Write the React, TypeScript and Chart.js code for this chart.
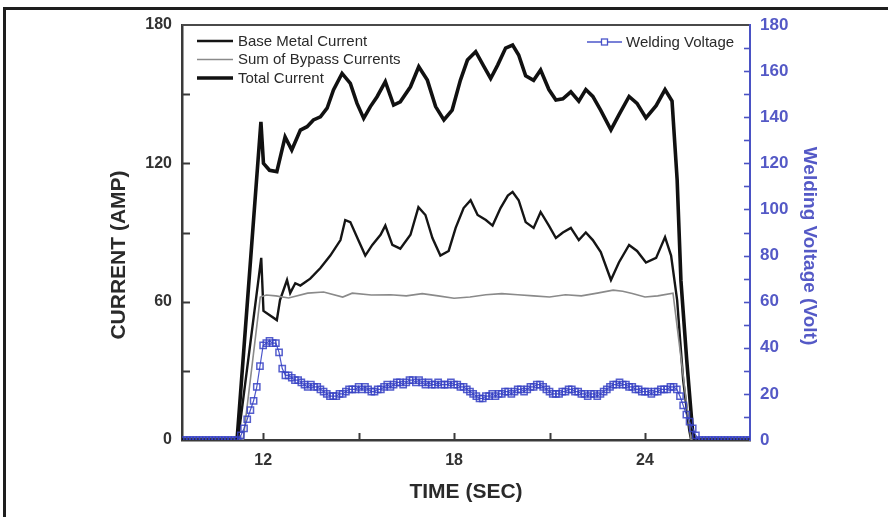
import React, { useEffect, useRef } from "react";
import { Chart, registerables } from "chart.js";
Chart.register(...registerables);

// ---------------- data ----------------
const X_MIN = 9.45;
const X_MAX = 27.3;
const xTickValues = [12, 18, 24];
const xMinorTicks = [15, 21];
const currentTicks = [0, 60, 120, 180];
const currentMinorTicks = [30, 90, 150];
const voltageTicks = [0, 20, 40, 60, 80, 100, 120, 140, 160, 180];
const voltageMinorTicks = [10, 30, 50, 70, 90, 110, 130, 150, 170];

const baseTime = [9.45, 11.21, 11.94, 12.01, 12.43, 12.53, 12.75, 12.85, 13.01, 13.17, 13.48, 13.8, 14.11, 14.43, 14.58, 14.74, 14.99, 15.21, 15.43, 15.69, 15.84, 16.06, 16.31, 16.63, 16.88, 17.1, 17.32, 17.57, 17.83, 18.05, 18.3, 18.52, 18.74, 19.0, 19.21, 19.46, 19.69, 19.84, 20.03, 20.25, 20.5, 20.72, 20.98, 21.2, 21.42, 21.67, 21.92, 22.14, 22.36, 22.61, 22.93, 23.18, 23.5, 23.75, 24.03, 24.35, 24.63, 24.82, 25.01, 25.2, 25.39, 25.45, 27.3];
const baseMetalCurrent = [0, 0, 79, 56, 52, 60.7, 69.4, 63.7, 68, 67, 70, 74.6, 80, 86.7, 95.4, 94.5, 86.7, 80, 84.6, 89, 93, 84.6, 83, 89, 101, 97.6, 87.6, 80, 82, 92, 100.6, 104, 97.6, 95.4, 93, 100.6, 106, 107.6, 104, 94.5, 92, 98.9, 93, 87.6, 90, 92, 86.7, 90, 86.7, 81.5, 69.4, 77, 84.6, 82, 77, 79, 88, 80, 60.7, 26, 4.3, 0, 0];

const bypassTime = [9.45, 11.37, 11.91, 12.1, 12.4, 12.8, 13.4, 13.9, 14.5, 14.8, 15.4, 16.0, 16.5, 17.0, 17.5, 18.0, 18.5, 19.0, 19.5, 20.0, 20.5, 21.0, 21.5, 22.0, 22.5, 23.0, 23.3, 23.6, 24.0, 24.4, 24.88, 25.45, 27.3];
const bypassCurrent = [0, 0, 62, 62.9, 62.5, 61.6, 63.7, 64.2, 62, 63.7, 62.9, 63, 62.5, 63.5, 62.5, 61.5, 62, 63, 63.5, 63, 62.5, 62, 63, 62.5, 63.7, 65, 64.5, 63.5, 62, 62.5, 63.7, 0, 0];

const totalTime = [9.45, 11.18, 11.93, 12.01, 12.2, 12.43, 12.69, 12.9, 13.17, 13.38, 13.58, 13.8, 14.01, 14.21, 14.48, 14.74, 14.95, 15.16, 15.37, 15.58, 15.84, 16.1, 16.31, 16.63, 16.89, 17.16, 17.42, 17.68, 17.94, 18.2, 18.42, 18.68, 18.94, 19.15, 19.37, 19.62, 19.84, 20.03, 20.25, 20.5, 20.72, 20.98, 21.2, 21.42, 21.67, 21.92, 22.14, 22.36, 22.61, 22.93, 23.18, 23.5, 23.75, 24.03, 24.35, 24.63, 24.85, 25.01, 25.13, 25.31, 25.5, 25.57, 27.3];
const totalCurrent = [0, 0, 138, 120, 117, 116.4, 131.5, 125.8, 134.4, 135.9, 138.8, 140.2, 143.9, 151.8, 159, 154.7, 146, 139.5, 144.6, 148.9, 155.4, 145.3, 146.7, 153.2, 161.9, 156.1, 144.6, 138.8, 143.1, 156.1, 164.8, 168.4, 161.9, 156.8, 162.6, 170, 171.3, 167, 158, 156, 160.5, 152, 147.5, 148, 151, 147, 152, 149, 143, 134.5, 141, 149, 146, 139.7, 145, 152, 147, 113, 69, 35, 3, 0, 0];

// welding voltage sampled every 0.1 s starting at 9.5 s
const voltageStart = 9.5;
const voltageStep = 0.1;
const weldingVoltage = [
  0, 0, 0, 0, 0, 0, 0, 0, 0, 0, 0, 0, 0, 0, 0, 0, 0, 0,
  2, 5, 9, 13, 17, 23, 32, 41,
  42, 43, 42, 42, 38, 31, 28, 28, 27, 26,
  26, 25, 24, 23, 24, 23, 23, 22, 21, 20,
  19, 19, 19, 20, 20, 21, 22, 22, 22, 23,
  22, 23, 22, 21, 21, 22, 22, 23, 24, 23,
  24, 25, 25, 24, 25, 26, 26, 25, 26, 25,
  24, 25, 24, 24, 25, 24, 24, 24, 25, 24,
  24, 23, 23, 22, 21, 20, 19, 18, 18, 19,
  19, 20, 19, 20, 20, 21, 21, 20, 21, 22,
  22, 21, 22, 23, 23, 24, 24, 23, 22, 21,
  20, 20, 20, 21, 21, 22, 22, 21, 21, 20,
  20, 19, 20, 20, 19, 20, 21, 22, 23, 24,
  24, 25, 24, 24, 23, 23, 22, 22, 21, 21,
  21, 20, 21, 21, 22, 22, 22, 23, 23, 22,
  19, 15, 11, 8, 5, 2,
  0, 0, 0, 0, 0, 0, 0, 0, 0, 0, 0, 0, 0, 0, 0, 0, 0,
];

const xTitle = "TIME (SEC)";
const yTitle = "CURRENT (AMP)";
const y1Title = "Welding Voltage (Volt)";

// ---------------- styles ----------------
const FONT = "'Liberation Sans', Arial, Helvetica, sans-serif";
const DARK = "#2a2a2a";
const AXIS_DARK = "#3a3a3a";
const BLUE = "#4a52c4";
const BLUE_TEXT = "#5459c6";

export default function App() {
  const ref = useRef<HTMLCanvasElement>(null);

  useEffect(() => {
    document.body.style.margin = "0";
    const canvas = ref.current;
    if (!canvas) return;

    const pair = (xs: number[], ys: number[]) => xs.map((x, i) => ({ x, y: ys[i] }));
    const voltagePoints = weldingVoltage.map((v, i) => ({
      x: Math.round((voltageStart + i * voltageStep) * 100) / 100,
      y: v,
    }));

    const decor = {
      id: "decor",
      afterDraw(chart: any) {
        const { ctx, chartArea } = chart;
        const { left, right, top, bottom } = chartArea;
        const xs = chart.scales.x;
        const ys = chart.scales.y;
        const y1 = chart.scales.y1;
        ctx.save();
        // top frame of the plot
        ctx.strokeStyle = "#4a4a4a";
        ctx.lineWidth = 2;
        ctx.beginPath();
        ctx.moveTo(left, top);
        ctx.lineTo(right - 1, top);
        ctx.stroke();

        // inside tick marks
        ctx.strokeStyle = AXIS_DARK;
        ctx.lineWidth = 2;
        [...currentTicks.slice(1, -1), ...currentMinorTicks].forEach((v) => {
          const py = Math.round(ys.getPixelForValue(v)) + 0.5;
          ctx.beginPath();
          ctx.moveTo(left, py);
          ctx.lineTo(left + 8, py);
          ctx.stroke();
        });
        [...xTickValues, ...xMinorTicks].forEach((v) => {
          const px = Math.round(xs.getPixelForValue(v)) + 0.5;
          ctx.beginPath();
          ctx.moveTo(px, bottom);
          ctx.lineTo(px, bottom - 7);
          ctx.stroke();
        });
        ctx.strokeStyle = BLUE;
        ctx.lineWidth = 1.6;
        [...voltageTicks.slice(1, -1), ...voltageMinorTicks].forEach((v) => {
          const py = Math.round(y1.getPixelForValue(v)) + 0.5;
          ctx.beginPath();
          ctx.moveTo(right, py);
          ctx.lineTo(right - 6, py);
          ctx.stroke();
        });

        // legends
        const ds = chart.data.datasets;
        ctx.font = `15px ${FONT}`;
        ctx.textBaseline = "middle";
        ctx.textAlign = "left";
        const rowsY = [top + 16, top + 34.5, top + 53];
        [0, 1, 2].forEach((k, i) => {
          const d = ds[k];
          const y = rowsY[i];
          ctx.strokeStyle = d.borderColor;
          ctx.lineWidth = d.borderWidth;
          ctx.beginPath();
          ctx.moveTo(left + 15, y);
          ctx.lineTo(left + 51, y);
          ctx.stroke();
          ctx.fillStyle = DARK;
          ctx.fillText(d.label, left + 56, y + 0.5);
        });
        const vd = ds[3];
        const vy = top + 17;
        const vx = right - 163;
        ctx.strokeStyle = vd.borderColor;
        ctx.lineWidth = 1.5;
        ctx.beginPath();
        ctx.moveTo(vx, vy);
        ctx.lineTo(vx + 35, vy);
        ctx.stroke();
        ctx.fillStyle = "#fff";
        ctx.fillRect(vx + 14.5, vy - 3, 6, 6);
        ctx.lineWidth = 1.3;
        ctx.strokeRect(vx + 14.5, vy - 3, 6, 6);
        ctx.fillStyle = DARK;
        ctx.fillText(vd.label, vx + 39, vy + 0.5);

        // vertical axis titles
        ctx.textAlign = "center";
        ctx.textBaseline = "middle";
        ctx.font = `bold 21px ${FONT}`;
        ctx.fillStyle = DARK;
        ctx.save();
        ctx.translate(119, 255);
        ctx.rotate(-Math.PI / 2);
        ctx.fillText(yTitle, 0, 0);
        ctx.restore();
        ctx.font = `bold 19px ${FONT}`;
        ctx.fillStyle = BLUE_TEXT;
        ctx.save();
        ctx.translate(809, 246);
        ctx.rotate(Math.PI / 2);
        ctx.fillText(y1Title, 0, 0);
        ctx.restore();
        ctx.restore();
      },
    };

    const chart = new Chart(canvas, {
      type: "line",
      data: {
        datasets: [
          {
            label: "Base Metal Current",
            data: pair(baseTime, baseMetalCurrent),
            yAxisID: "y",
            borderColor: "#151515",
            borderWidth: 2.4,
            pointRadius: 0,
            tension: 0,
            order: 3,
          },
          {
            label: "Sum of Bypass Currents",
            data: pair(bypassTime, bypassCurrent),
            yAxisID: "y",
            borderColor: "#8a8a8a",
            borderWidth: 1.6,
            pointRadius: 0,
            tension: 0,
            order: 2,
          },
          {
            label: "Total Current",
            data: pair(totalTime, totalCurrent),
            yAxisID: "y",
            borderColor: "#111111",
            borderWidth: 3.6,
            pointRadius: 0,
            tension: 0,
            order: 1,
          },
          {
            label: "Welding Voltage",
            data: voltagePoints,
            yAxisID: "y1",
            borderColor: "rgba(55,66,196,0.9)",
            borderWidth: 1.2,
            pointStyle: "rect",
            pointRadius: 4.4,
            pointBorderWidth: 1.5,
            pointBorderColor: "rgba(55,66,196,0.85)",
            pointBackgroundColor: "rgba(255,255,255,0)",
            tension: 0,
            order: 0,
          },
        ],
      },
      options: {
        responsive: false,
        animation: false,
        events: [],
        layout: { padding: { top: 25, left: 0, right: 0, bottom: 0 } },
        plugins: { legend: { display: false }, tooltip: { enabled: false } },
        scales: {
          x: {
            type: "linear",
            min: X_MIN,
            max: X_MAX,
            afterBuildTicks: (s: any) => {
              s.ticks = xTickValues.map((v) => ({ value: v }));
            },
            afterFit: (s: any) => {
              s.height = 77;
            },
            grid: { display: false, drawTicks: false },
            border: { display: true, color: AXIS_DARK, width: 2.5 },
            ticks: {
              padding: 11,
              color: "#333",
              font: { family: FONT, size: 16, weight: "bold" },
              maxRotation: 0,
            },
            title: {
              display: true,
              text: xTitle,
              color: DARK,
              font: { family: FONT, size: 21, weight: "bold" },
              padding: { top: 0, bottom: 12 },
            },
          },
          y: {
            type: "linear",
            position: "left",
            min: 0,
            max: 180,
            afterBuildTicks: (s: any) => {
              s.ticks = currentTicks.map((v) => ({ value: v }));
            },
            afterFit: (s: any) => {
              s.width = 182;
            },
            grid: { display: false, drawTicks: false },
            border: { display: true, color: AXIS_DARK, width: 2.5 },
            ticks: {
              padding: 10,
              color: "#333",
              font: { family: FONT, size: 16, weight: "bold" },
            },
          },
          y1: {
            type: "linear",
            position: "right",
            min: 0,
            max: 180,
            afterBuildTicks: (s: any) => {
              s.ticks = voltageTicks.map((v) => ({ value: v }));
            },
            afterFit: (s: any) => {
              s.width = 138;
            },
            grid: { display: false, drawTicks: false },
            border: { display: true, color: BLUE, width: 2 },
            ticks: {
              padding: 10,
              color: BLUE_TEXT,
              font: { family: FONT, size: 17, weight: "bold" },
            },
          },
        },
      },
      plugins: [decor],
    } as any);

    return () => chart.destroy();
  }, []);

  return (
    <div
      style={{
        position: "absolute",
        left: 0,
        top: 0,
        width: 888,
        height: 517,
        background: "#ffffff",
        overflow: "hidden",
      }}
    >
      <div style={{ position: "absolute", left: 3, top: 7, width: 885, height: 3, background: "#1e1e1e" }} />
      <div style={{ position: "absolute", left: 3, top: 7, width: 3, height: 510, background: "#1e1e1e" }} />
      <canvas ref={ref} width={888} height={517} style={{ position: "absolute", left: 0, top: 0 }} />
    </div>
  );
}
